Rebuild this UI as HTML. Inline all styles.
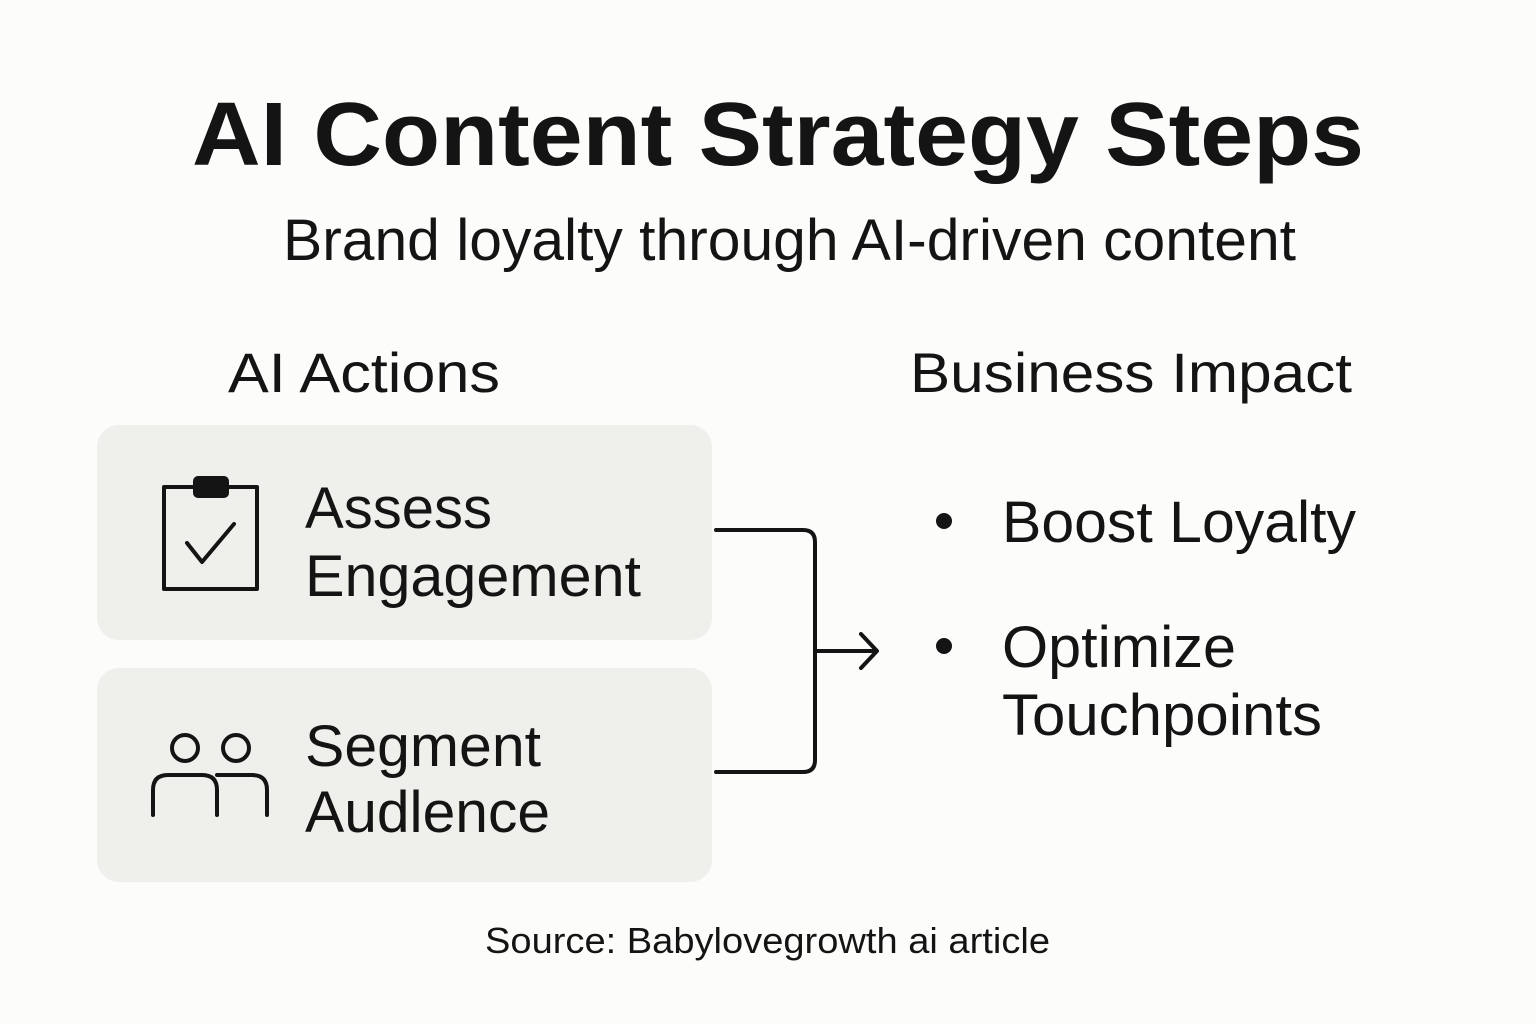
<!DOCTYPE html>
<html><head><meta charset="utf-8"><style>
html,body{margin:0;padding:0;background:#fcfcfa;}
svg{display:block}
text{font-family:"Liberation Sans",sans-serif;fill:#141414}
</style></head><body>
<svg width="1536" height="1024" viewBox="0 0 1536 1024" xmlns="http://www.w3.org/2000/svg">
<rect width="1536" height="1024" fill="#fcfcfa"/>
<text x="192" y="165" font-size="90" font-weight="bold" textLength="1172" lengthAdjust="spacingAndGlyphs">AI Content Strategy Steps</text>
<text x="283" y="260" font-size="58" textLength="1013" lengthAdjust="spacingAndGlyphs">Brand loyalty through AI-driven content</text>
<text x="228" y="392" font-size="56" textLength="272" lengthAdjust="spacingAndGlyphs">AI Actions</text>
<text x="910" y="392" font-size="56" textLength="442" lengthAdjust="spacingAndGlyphs">Business Impact</text>
<rect x="97" y="425" width="615" height="215" rx="22" fill="#efefeb"/>
<rect x="97" y="668" width="615" height="214" rx="22" fill="#efefeb"/>
<g fill="none" stroke="#141414" stroke-width="4" stroke-linecap="round" stroke-linejoin="round">
<path d="M195 487 H164 V589 H257 V487 H226"/>
<rect x="195" y="478" width="32" height="18" rx="3" fill="#141414"/>
<path d="M187 543 L202 562 L234 524"/>
<circle cx="185" cy="748" r="13"/>
<circle cx="236" cy="748" r="13"/>
<path d="M153 815 V790 Q153 775 168 775 H202 Q217 775 217 790 V815"/>
<path d="M217 775 H252 Q267 775 267 790 V815"/>
<path d="M716 530 H803 Q815 530 815 542 V760 Q815 772 803 772 H716"/>
<path d="M815 651 H876 M861 634 L877 651 L861 668"/>
</g>
<text x="305" y="528" font-size="58" textLength="187" lengthAdjust="spacingAndGlyphs">Assess</text>
<text x="305" y="596" font-size="58" textLength="336" lengthAdjust="spacingAndGlyphs">Engagement</text>
<text x="305" y="766" font-size="58" textLength="236" lengthAdjust="spacingAndGlyphs">Segment</text>
<text x="305" y="832" font-size="58" textLength="245" lengthAdjust="spacingAndGlyphs">Audlence</text>
<circle cx="944" cy="521" r="8" fill="#141414"/>
<circle cx="944" cy="646" r="8" fill="#141414"/>
<text x="1002" y="542" font-size="58" textLength="354" lengthAdjust="spacingAndGlyphs">Boost Loyalty</text>
<text x="1002" y="667" font-size="58" textLength="234" lengthAdjust="spacingAndGlyphs">Optimize</text>
<text x="1002" y="735" font-size="58" textLength="320" lengthAdjust="spacingAndGlyphs">Touchpoints</text>
<text x="485" y="953" font-size="36" textLength="565" lengthAdjust="spacingAndGlyphs">Source: Babylovegrowth ai article</text>
</svg>
</body></html>
